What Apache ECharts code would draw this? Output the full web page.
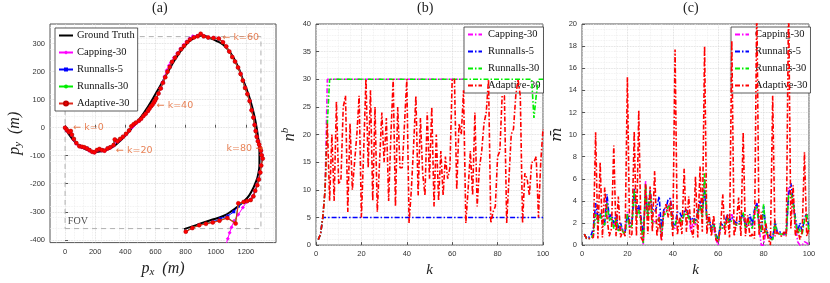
<!DOCTYPE html>
<html><head><meta charset="utf-8">
<script src="https://cdn.jsdelivr.net/npm/echarts@6/dist/echarts.min.js"></script>
<style>html,body{margin:0;padding:0;background:#fff;overflow:hidden}#c{width:830px;height:283px}</style>
</head><body><div id="c"></div>
<script>
// ---------- Panel (a): trajectories [px, py] for k = 0..100 ----------
const groundTruth = [[0,0],[50,-42],[100,-66],[150,-80],[200,-87],[250,-83],[300,-74],[350,-55],[400,-28],[450,3],[500,35],[550,75],[600,120],[650,167],[700,216],[750,260],[800,295],[850,318],[911,329],[960,320],[1000,311],[1050,296],[1100,265],[1150,215],[1176,178],[1210,130],[1242,74],[1265,20],[1280,-30],[1290,-80],[1290,-130],[1280,-170],[1265,-195],[1240,-225],[1210,-250],[1160,-275],[1110,-296],[1050,-315],[960,-331],[880,-346],[790,-362]];
const capping30 = [
[0,0],[10,-10],[24,-17],[36,-14],[44,-27],[57,-42],[74,-57],[94,-67],[110,-70],[127,-72],
[144,-75],[160,-82],[178,-87],[194,-89],[210,-82],[227,-78],[244,-81],[260,-83],[280,-76],[300,-72],
[320,-64],[332,-50],[347,-50],[365,-42],[384,-34],[404,-24],[424,-12],[446,2],[458,10],[470,16],
[488,22],[503,30],[518,40],[533,48],[548,58],[558,66],[568,74],[579,81],[588,88],[595,96],
[603,104],[618,121],[632,140],[646,161],[660,183],[675,205],[690,222],[702,232],[722,250],[744,266],
[765,282],[786,295],[806,308],[826,318],[848,326],[876,328],[898,334],[918,327],[948,323],[983,321],
[1018,318],[1046,306],[1068,291],[1088,273],[1108,253],[1126,237],[1146,216],[1163,193],[1178,168],[1193,144],
[1208,121],[1223,96],[1236,64],[1248,38],[1256,12],[1263,-10],[1270,-30],[1278,-46],[1286,-58],[1292,-70],
[1298,-80],[1303,-96],[1308,-110],[1300,-134],[1294,-158],[1284,-183],[1274,-203],[1260,-224],[1248,-243],[1230,-256],
[1205,-265],[1180,-285],[1150,-310],[1122,-332],[1105,-355],[1092,-375],[1080,-396],[1068,-418],[1056,-440],[1044,-462],
[1032,-485]];
const runnalls5 = [
[0,0],[11,-9],[24,-14],[37,-13],[46,-26],[59,-41],[76,-56],[96,-65],[113,-69],[129,-71],
[146,-73],[163,-79],[181,-85],[196,-87],[213,-81],[229,-77],[246,-79],[263,-81],[283,-73],[301,-69],
[323,-61],[331,-44],[349,-47],[367,-39],[386,-31],[406,-21],[426,-9],[441,4],[456,11],[471,19],
[491,26],[506,33],[521,43],[536,51],[551,61],[561,69],[571,77],[581,83],[591,91],[598,98],
[606,106],[621,123],[636,141],[651,161],[666,181],[681,201],[696,218],[711,236],[731,251],[751,266],
[771,281],[791,293],[811,306],[831,316],[856,323],[881,327],[901,333],[921,325],[951,321],[986,319],
[1021,317],[1049,304],[1071,289],[1091,271],[1111,251],[1129,235],[1149,214],[1166,191],[1181,167],[1196,141],
[1211,119],[1226,94],[1239,61],[1251,35],[1259,9],[1266,-13],[1273,-33],[1281,-49],[1289,-61],[1295,-73],
[1301,-83],[1306,-99],[1311,-111],[1301,-136],[1295,-161],[1285,-186],[1275,-206],[1261,-226],[1249,-246],[1231,-259],
[1207,-263],[1184,-266],[1151,-280],[1120,-300],[1080,-315],[1030,-325],[982,-336],[936,-342],[891,-347],[846,-357],
[802,-370]];
const runnalls30 = [
[0,0],[13,-7],[26,-16],[39,-11],[46,-24],[59,-39],[76,-54],[94,-65],[111,-67],[127,-69],
[144,-73],[161,-79],[179,-85],[194,-87],[211,-79],[227,-75],[244,-79],[261,-81],[281,-73],[299,-69],
[321,-61],[329,-45],[346,-47],[364,-39],[384,-31],[404,-21],[424,-9],[439,6],[454,13],[469,19],
[489,26],[504,33],[519,43],[534,51],[549,61],[559,69],[569,77],[579,83],[589,91],[596,98],
[604,106],[619,123],[634,141],[649,161],[664,181],[679,201],[694,216],[709,236],[729,251],[749,266],
[769,281],[789,293],[809,306],[829,316],[854,323],[879,327],[899,334],[919,325],[949,321],[984,319],
[1019,317],[1047,304],[1069,289],[1089,271],[1109,251],[1127,235],[1147,214],[1164,191],[1179,167],[1194,141],
[1209,119],[1224,94],[1237,61],[1249,35],[1257,9],[1264,-13],[1271,-33],[1279,-49],[1287,-61],[1293,-73],
[1299,-83],[1304,-99],[1311,-111],[1301,-136],[1295,-161],[1285,-186],[1275,-206],[1261,-226],[1249,-246],[1231,-259],
[1207,-263],[1185,-267],[1150,-272],[1130,-340],[1078,-321],[1026,-331],[981,-337],[936,-342],[891,-347],[846,-357],
[802,-370]];
const adaptive30 = [
[0,0],[12,-8],[25,-15],[38,-12],[45,-25],[58,-40],[75,-55],[95,-66],[112,-68],[128,-70],
[145,-74],[162,-80],[180,-86],[195,-88],[212,-80],[228,-76],[245,-80],[262,-82],[282,-74],[300,-70],
[322,-62],[330,-42],[348,-48],[366,-40],[385,-32],[405,-22],[425,-10],[440,5],[455,12],[470,18],
[490,25],[505,32],[520,42],[535,50],[550,60],[560,68],[570,76],[580,82],[590,90],[597,97],
[605,105],[620,122],[635,140],[650,160],[665,180],[680,200],[695,217],[710,235],[730,250],[750,265],
[770,280],[790,292],[810,305],[830,315],[855,322],[880,326],[900,335],[920,326],[950,322],[985,320],
[1020,318],[1048,305],[1070,290],[1090,272],[1110,252],[1128,236],[1148,215],[1165,192],[1180,168],[1195,142],
[1210,120],[1225,95],[1238,62],[1250,36],[1258,10],[1265,-12],[1272,-32],[1280,-48],[1288,-60],[1294,-72],
[1300,-82],[1305,-98],[1312,-110],[1302,-135],[1296,-160],[1286,-185],[1276,-205],[1262,-225],[1250,-245],[1232,-258],
[1208,-262],[1185,-265],[1150,-270],[1132,-342],[1077,-322],[1025,-332],[980,-338],[935,-343],[890,-348],[845,-358],
[801,-371]];
const fovBox = [[0,-360],[1300,-360],[1300,325],[0,325],[0,-360]];
const annotations = [[55,0,'\u2190 k=0'],[338,-82,'\u2190 k=20'],[608,78,'\u2190 k=40'],[1045,320,'\u2190 k=60'],[1072,-76,'k=80 \u2192']];
const fovLabel = [[85,-336,'FOV']];
const axA_xTicks = [0,200,400,600,800,1000,1200];
const axA_yTicks = [-400,-300,-200,-100,0,100,200,300];

// ---------- Panel (b): number of components n^b, k = 1..100 ----------
const nb_capping30  = [1,2,5,10,30,30,30,30,30,30,30,30,30,30,30,30,30,30,30,30,30,30,30,30,30,30,30,30,30,30,30,30,30,30,30,30,30,30,30,30,30,30,30,30,30,30,30,30,30,30,30,30,30,30,30,30,30,30,30,30,30,30,30,30,30,30,30,30,30,30,30,30,30,30,30,30,30,30,30,30,30,30,30,30,30,30,30,30,30,30,30,30,30,30,30,30,30,30,30,30];
const nb_runnalls5  = [1,2,5,5,5,5,5,5,5,5,5,5,5,5,5,5,5,5,5,5,5,5,5,5,5,5,5,5,5,5,5,5,5,5,5,5,5,5,5,5,5,5,5,5,5,5,5,5,5,5,5,5,5,5,5,5,5,5,5,5,5,5,5,5,5,5,5,5,5,5,5,5,5,5,5,5,5,5,5,5,5,5,5,5,5,5,5,5,5,5,5,5,5,5,5,5,5,5,5,5];
const nb_runnalls30 = [1,2,5,10,22,30,30,30,30,30,30,30,30,30,30,30,30,30,30,30,30,30,30,30,30,30,30,30,30,30,30,30,30,30,30,30,30,30,30,30,30,30,30,30,30,30,30,30,30,30,30,30,30,30,30,30,30,30,30,30,30,30,30,30,30,30,30,30,30,30,30,30,30,30,30,30,30,30,30,30,30,30,30,30,30,30,30,30,30,30,30,30,30,30,30,23,27,30,30,30];
const nb_adaptive30 = [1,2,5,10,22,8,20,8,26,11, 12,25,27,6,22,10,15,20,27,5, 17,30,14,28,8,25,6,15,24,15, 23,8,20,30,7,25,14,14,22,30, 4,10,18,27,9,23,13,9,24,12, 25,7,20,8,17,9,16,12,14,30, 30,10,22,20,28,4,10,17,9,24, 7,14,17,22,24,30,4,6,7,16, 17,27,27,4,12,20,21,27,30,27, 4,13,12,9,15,15,16,5,15,21];

// ---------- Panel (c): m-bar, k = 1..100 ----------
const m_capping30 = [1.0,0.6,0.6,0.6,0.8,3.0,2.2,2.8,2.0,1.8, 4.0,2.3,2.6,1.6,2.6,1.3,1.8,1.2,1.1,3.0, 1.6,1.8,4.8,2.6,3.4,2.2,0.0,5.8,2.6,4.8, 2.2,2.1,2.2,2.8,0.5,3.0,3.0,3.6,3.6,1.6, 1.5,2.4,2.5,2.0,2.8,3.0,2.6,1.2,2.2,1.8, 2.8,3.6,2.6,6.0,2.0,2.2,1.2,1.6,0.5,0.0, 1.6,1.5,1.8,2.5,2.0,2.8,2.0,1.8,1.8,2.3, 2.8,1.5,1.8,2.2,1.5,3.2,3.8,1.5,0.0,0.0, 1.2,0.8,0.5,0.5,2.0,1.0,1.0,1.0,0.9,1.0, 5.2,4.5,3.6,2.0,0.3,0.0,0.0,0.3,0.2,0.0];
const m_runnalls5 = [1.0,0.6,0.7,0.9,1.5,3.8,2.5,2.9,2.2,2.0, 4.6,2.5,2.8,2.0,2.8,1.5,2.0,1.3,1.2,2.8, 2.0,2.0,5.1,3.0,3.6,2.5,1.0,4.5,2.8,5.0, 3.0,3.0,3.5,4.4,1.5,3.2,3.3,4.2,4.2,2.0, 1.8,3.0,3.0,2.5,3.0,3.2,2.8,2.2,2.5,2.2, 3.0,4.0,3.0,5.0,2.5,2.5,1.5,2.0,1.0,0.5, 2.0,1.8,2.0,2.8,2.2,2.5,2.2,2.0,2.0,2.5, 2.8,1.8,2.0,2.8,1.8,3.2,3.8,2.0,1.2,3.5, 1.5,1.0,0.8,0.5,2.2,1.2,1.2,1.1,1.0,1.2, 4.5,5.6,4.0,2.5,1.2,2.0,1.2,2.5,2.8,1.5];
const m_runnalls30 = [1.0,0.6,0.6,0.6,1.0,2.8,2.0,2.8,2.0,1.8, 3.8,2.2,2.5,1.5,2.5,1.2,1.8,1.2,1.0,2.8, 1.5,1.8,5.0,2.5,3.2,2.0,0.2,5.5,2.5,4.8, 2.0,2.0,2.0,2.5,0.8,2.8,2.8,3.5,3.5,1.5, 1.8,2.5,2.5,2.0,2.8,3.0,2.5,2.0,2.2,2.0, 2.8,3.5,2.5,6.5,2.0,2.2,1.2,1.8,0.8,0.3, 1.8,1.5,1.8,2.5,2.0,2.2,2.0,1.8,1.8,2.3, 3.0,1.5,1.8,2.2,1.5,3.0,3.5,1.5,1.2,3.7, 1.2,0.8,0.5,0.5,2.0,1.0,1.0,1.0,0.9,1.0, 4.5,4.8,3.8,2.2,1.0,1.5,1.0,2.2,2.8,1.2];
const m_adaptive30 = [1.0,0.6,0.6,0.6,0.7,10.2,0.6,7.5,0.7,5.2, 2.5,0.8,1.5,9.0,0.8,4.4,0.7,1.3,0.8,15.2, 0.7,1.0,10.3,0.8,12.2,0.7,0.3,5.5,1.0,5.3, 1.2,6.7,0.8,2.5,0.4,3.0,3.7,2.5,4.0,0.8, 17.7,0.9,2.5,1.0,6.9,1.2,4.4,1.5,0.7,6.2, 0.7,7.1,1.2,18.0,1.0,2.8,0.8,2.7,0.5,0.3, 1.5,4.6,0.9,2.8,0.7,18.5,0.8,2.0,4.3,0.8, 10.2,0.8,2.7,0.7,1.0,0.6,22,0.9,3.0,0.5, 2.0,0.6,0.0,13.5,0.8,1.2,0.9,0.8,1.2,0.8, 22,1.5,5.4,0.8,1.5,0.5,1.2,8.4,0.8,1.5];

const names = ['Capping-30','Runnalls-5','Runnalls-30','Adaptive-30'];
const colors = ['#ff00ff','#0000ff','#00ee00','#ff0000'];

const withK = arr => arr.map((v,i)=>[i+1,v]);

const chart = echarts.init(document.getElementById('c'), null, {renderer:'canvas'});

const tickFont = {fontFamily:'Liberation Sans, Arial, sans-serif', fontSize:7.5, color:'#333'};
const serif = 'Liberation Serif, Times New Roman, serif';
const dashDot = [5,2,1.5,2];

function boxAxis(extra){
  return Object.assign({
    axisLine:{show:false},
    axisTick:{show:true, inside:true, length:3, lineStyle:{color:'#555'}},
    axisLabel:Object.assign({margin:5}, tickFont),
    splitLine:{show:true, lineStyle:{color:'#d6d6d6', type:'dotted', width:0.8}},
    minorTick:{show:false},
    minorSplitLine:{show:true, lineStyle:{color:'#ececec', type:'dotted', width:0.8}},
    nameLocation:'middle',
    nameTextStyle:{fontFamily:serif, fontStyle:'italic', fontSize:15, color:'#222'}
  }, extra);
}

const grids = [
  {left:50, top:24, width:226, height:225, show:true, borderColor:'#555', borderWidth:1, backgroundColor:'#fff'},
  {left:316, top:24, width:227, height:225, show:true, borderColor:'#555', borderWidth:1, backgroundColor:'#fff'},
  {left:582, top:24, width:227, height:225, show:true, borderColor:'#555', borderWidth:1, backgroundColor:'#fff'}
];

const rich = {
  i:{fontFamily:serif, fontStyle:'italic', fontSize:16, color:'#222'},
  sub:{fontFamily:serif, fontStyle:'italic', fontSize:11, color:'#222', verticalAlign:'bottom', padding:[8,0,0,0]},
  sup:{fontFamily:serif, fontStyle:'italic', fontSize:11, color:'#222', padding:[0,0,8,0]}
};
const plainNum = v => String(v);

const xAxes = [
  boxAxis({gridIndex:0, type:'value', min:-100, max:1400,
    axisLabel:Object.assign({margin:5, customValues:axA_xTicks, formatter:plainNum}, tickFont),
    axisTick:{show:true, inside:true, length:3, lineStyle:{color:'#555'}, customValues:axA_xTicks},
    minorTick:{show:false, splitNumber:5},
    name:'{i|p}{sub|x}{i|  (m)}', nameGap:15, nameTextStyle:{rich}}),
  boxAxis({gridIndex:1, type:'value', min:0, max:100, interval:20, minorTick:{show:false, splitNumber:4},
    name:'k', nameGap:14}),
  boxAxis({gridIndex:2, type:'value', min:0, max:100, interval:20, minorTick:{show:false, splitNumber:4},
    name:'k', nameGap:14})
];
const yAxes = [
  boxAxis({gridIndex:0, type:'value', min:-410, max:370,
    axisLabel:Object.assign({margin:5, customValues:axA_yTicks, formatter:plainNum}, tickFont),
    axisTick:{show:true, inside:true, length:3, lineStyle:{color:'#555'}, customValues:axA_yTicks},
    minorTick:{show:false, splitNumber:5},
    name:'{i|p}{sub|y}{i|  (m)}', nameGap:26, nameTextStyle:{rich}}),
  boxAxis({gridIndex:1, type:'value', min:0, max:40, interval:5, minorTick:{show:false, splitNumber:5},
    name:'{i|n}{sup|b}', nameGap:17, nameTextStyle:{rich}}),
  boxAxis({gridIndex:2, type:'value', min:0, max:20, interval:2, minorTick:{show:false, splitNumber:4},
    name:'m\u0304', nameGap:10, nameTextStyle:{fontFamily:'DejaVu Serif, serif', fontStyle:'italic', fontSize:15, color:'#222'}})
];

const series = [];
// Panel a
series.push({name:'Ground Truth|a', type:'line', xAxisIndex:0, yAxisIndex:0, data:groundTruth, smooth:true,
  symbol:'none', lineStyle:{color:'#000', width:2}, itemStyle:{color:'#000'}, z:2});
series.push({name:'FOV', type:'line', xAxisIndex:0, yAxisIndex:0, data:fovBox, symbol:'none',
  lineStyle:{color:'#b0b0b0', width:1, type:[5,4]}, z:1, silent:true});
const aData = [capping30, runnalls5, runnalls30, adaptive30];
const aSym = ['diamond','rect','circle','circle'];
const aSize = [4,3,3,4];
aData.forEach((d,i)=>{
  series.push({name:names[i]+'|a', type:'line', xAxisIndex:0, yAxisIndex:0, data:d,
    symbol:aSym[i], symbolSize:aSize[i], showSymbol:true,
    lineStyle:{color:i===3?'#e02a1e':colors[i], width:i===3?1.2:1},
    itemStyle:{color:colors[i], borderColor:i===3?'#c00000':colors[i], borderWidth:i===3?0.5:0},
    z:3+i});
});
series.push({name:'annot', type:'scatter', xAxisIndex:0, yAxisIndex:0, data:annotations, symbolSize:0,
  label:{show:true, position:'right', distance:0, formatter:p=>p.data[2], color:'#e2622b',
    fontFamily:'DejaVu Sans, sans-serif', fontSize:9.5}, z:10, silent:true});
series.push({name:'fovlabel', type:'scatter', xAxisIndex:0, yAxisIndex:0, data:fovLabel, symbolSize:0,
  label:{show:true, position:'inside', formatter:p=>p.data[2], color:'#222',
    fontFamily:serif, fontSize:10}, z:10, silent:true});
// Panel b
[nb_capping30, nb_runnalls5, nb_runnalls30, nb_adaptive30].forEach((d,i)=>{
  series.push({name:names[i]+'|b', type:'line', xAxisIndex:1, yAxisIndex:1, data:withK(d), symbol:'none',
    lineStyle:{color:colors[i], width:1.6, type:dashDot}, itemStyle:{color:colors[i]}, z:3+i});
});
// Panel c
[m_capping30, m_runnalls5, m_runnalls30, m_adaptive30].forEach((d,i)=>{
  series.push({name:names[i]+'|c', type:'line', xAxisIndex:2, yAxisIndex:2, data:withK(d), symbol:'none',
    lineStyle:{color:colors[i], width:1.6, type:dashDot}, itemStyle:{color:colors[i]}, z:3+i});
});

const legendBase = {orient:'vertical', align:'left', itemWidth:14, itemHeight:5, itemGap:6,
  backgroundColor:'#fff', borderColor:'#333', borderWidth:0.8, borderRadius:0, padding:[2,3,2,3],
  textStyle:{fontFamily:serif, fontSize:10.5, color:'#111', padding:[0,0,0,-1]},
  formatter:n=>n.replace(/\|.*/,''), selectedMode:false};
const legendTextBC = {fontFamily:serif, fontSize:10.5, color:'#111', padding:[0,0,0,1]};

const legends = [
  Object.assign({}, legendBase, {left:55, top:28,
    data:[{name:'Ground Truth|a', itemStyle:{opacity:0}}].concat(names.map(n=>({name:n+'|a'})))}),
  Object.assign({}, legendBase, {left:464, top:27, itemStyle:{opacity:0}, textStyle:legendTextBC,
    data:names.map(n=>n+'|b')}),
  Object.assign({}, legendBase, {left:731, top:27, itemStyle:{opacity:0}, textStyle:legendTextBC,
    data:names.map(n=>n+'|c')})
];

chart.setOption({
  animation:false,
  backgroundColor:'#fff',
  grid:grids, xAxis:xAxes, yAxis:yAxes, series, legend:legends,
  graphic:[
    {type:'text', left:152, top:1, style:{text:'(a)', font:'14px Liberation Serif, serif', fill:'#222'}},
    {type:'text', left:417, top:1, style:{text:'(b)', font:'14px Liberation Serif, serif', fill:'#222'}},
    {type:'text', left:683, top:1, style:{text:'(c)', font:'14px Liberation Serif, serif', fill:'#222'}}
  ]
});
</script></body></html>
